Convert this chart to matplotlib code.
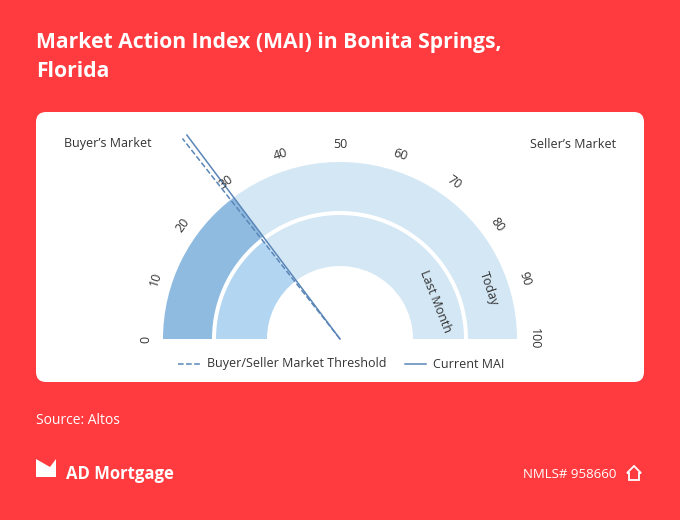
import matplotlib
matplotlib.use('Agg')
import matplotlib.pyplot as plt
from matplotlib.patches import Wedge, FancyBboxPatch, Polygon
import numpy as np

# data
current_mai = 29.5
last_month_mai = 29.0
threshold = 28.8
tick_values = [0, 10, 20, 30, 40, 50, 60, 70, 80, 90, 100]

RED = '#FF3B3F'
DARK = '#8FBBE0'
MID = '#B2D6F2'
LIGHT = '#D4E7F5'
LINE = '#5B86B8'

plt.rcParams['font.family'] = ['Open Sans', 'DejaVu Sans']

fig = plt.figure(figsize=(6.8, 5.2), dpi=100)
fig.patch.set_facecolor(RED)
ax = fig.add_axes([0, 0, 1, 1])
ax.set_xlim(0, 680)
ax.set_ylim(0, 520)
ax.axis('off')

def ang(v):
    return 180 - 1.8 * v

# card
ax.add_patch(FancyBboxPatch((36, 138), 608, 270, boxstyle='round,pad=0,rounding_size=10',
                            fc='white', ec='none'))

cx, cy = 340, 181
# outer ring (Today)
ax.add_patch(Wedge((cx, cy), 177, ang(100), ang(current_mai), width=49, fc=LIGHT, ec='none'))
ax.add_patch(Wedge((cx, cy), 177, ang(current_mai), ang(0), width=49, fc=DARK, ec='none'))
# inner ring (Last Month)
ax.add_patch(Wedge((cx, cy), 124, ang(100), ang(last_month_mai), width=51, fc=LIGHT, ec='none'))
ax.add_patch(Wedge((cx, cy), 124, ang(last_month_mai), ang(0), width=51, fc=MID, ec='none'))

# lines
for v, ls in [(threshold, '--'), (current_mai, '-')]:
    t = np.radians(ang(v))
    ax.plot([cx, cx + 255 * np.cos(t)], [cy, cy + 255 * np.sin(t)], ls=ls, color=LINE, lw=1.1)

# tick labels
for v in tick_values:
    t = np.radians(ang(v))
    ax.text(cx + 194 * np.cos(t), cy + 194 * np.sin(t), str(v), rotation=90 - 1.8 * v,
            ha='center', va='center', fontsize=9, color='#333333')

for label, r, v in [('Last Month', 103, 88), ('Today', 157, 89.5)]:
    t = np.radians(ang(v))
    ax.text(cx + r * np.cos(t), cy + r * np.sin(t), label, rotation=90 - 1.8 * v,
            ha='center', va='center', fontsize=9, color='#333333')

ax.text(64, 376, "Buyer’s Market", fontsize=9, color='#333333', va='center')
ax.text(616, 376, "Seller’s Market", fontsize=9, color='#333333', va='center', ha='right')

# legend
ax.plot([178, 201], [156, 156], ls='--', color=LINE, lw=1.1)
ax.text(207, 156, 'Buyer/Seller Market Threshold', fontsize=9, color='#333333', va='center')
ax.plot([405, 426], [156, 156], ls='-', color=LINE, lw=1.1)
ax.text(433, 156, 'Current MAI', fontsize=9, color='#333333', va='center')

# title and footer
ax.text(36, 463, 'Market Action Index (MAI) in Bonita Springs,\nFlorida', fontsize=15.2,
        fontweight='bold', color='white', va='center', linespacing=1.5)
ax.text(36, 100, 'Source: Altos', fontsize=10, color='white', va='center')
ax.add_patch(Polygon([[36, 61], [36, 43], [56, 43], [56, 61], [50, 53]], closed=True, fc='white', ec='none'))
ax.text(66, 46, 'AD Mortgage', fontsize=12, fontweight='bold', color='white', va='center')
ax.text(616, 46, 'NMLS# 958660', fontsize=9.5, color='white', va='center', ha='right')
ax.add_patch(Polygon([[627, 47], [634, 54], [641, 47], [639, 47], [639, 40], [629, 40], [629, 47]],
                     closed=True, fc='none', ec='white', lw=1.3))

fig.savefig('out.png', dpi=100, facecolor=RED)
